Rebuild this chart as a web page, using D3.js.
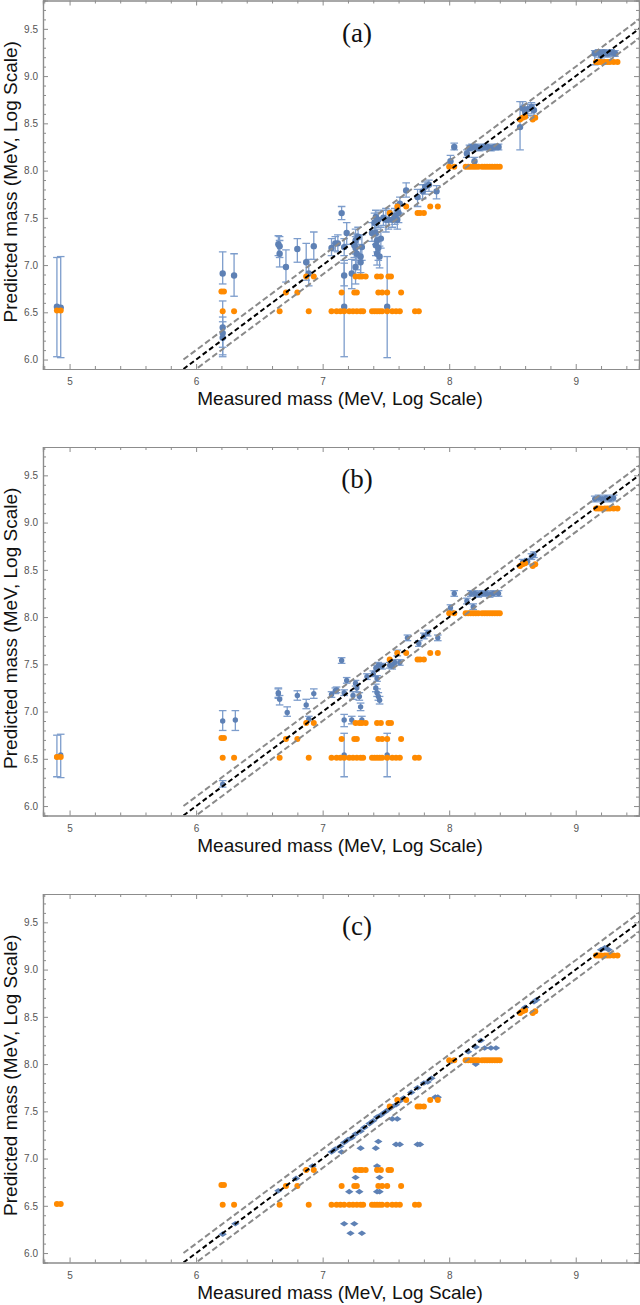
<!DOCTYPE html>
<html>
<head>
<meta charset="utf-8">
<script src="https://cdn.jsdelivr.net/npm/d3@7"></script>
<style>
  body { margin: 0; background: #fff; }
  svg { display: block; }
</style>
</head>
<body>
<svg id="chart" width="640" height="1305"></svg>
<script>
// shared orange points (same in every panel)
const orangePoints = [
  [4.90, 6.52], [4.93, 6.52],
  [6.21, 6.51], [6.30, 6.51], [6.66, 6.51], [6.89, 6.51], [7.07, 6.51], [7.11, 6.51], [7.14, 6.51],
  [7.17, 6.51], [7.21, 6.51], [7.24, 6.51], [7.27, 6.51], [7.30, 6.51], [7.32, 6.51], [7.39, 6.51],
  [7.41, 6.51], [7.43, 6.51], [7.45, 6.51], [7.47, 6.51], [7.51, 6.51], [7.55, 6.51], [7.58, 6.51],
  [7.61, 6.51], [7.73, 6.51], [7.76, 6.51],
  [6.20, 6.72], [6.22, 6.72], [6.71, 6.71], [6.80, 6.71], [7.15, 6.71], [7.25, 6.71], [7.27, 6.71],
  [7.44, 6.71], [7.47, 6.71], [7.51, 6.71], [7.62, 6.71],
  [6.87, 6.88], [6.93, 6.88], [7.26, 6.88], [7.29, 6.88], [7.31, 6.88], [7.34, 6.88], [7.43, 6.88],
  [7.46, 6.88], [7.52, 6.88], [7.54, 6.88],
  [7.53, 7.55], [7.75, 7.55], [7.77, 7.55], [7.80, 7.55], [7.59, 7.62], [7.66, 7.62], [7.85, 7.62], [7.91, 7.62],
  [8.00, 8.04], [8.04, 8.04], [8.13, 8.04], [8.15, 8.04], [8.17, 8.04], [8.19, 8.04], [8.21, 8.04],
  [8.23, 8.04], [8.26, 8.04], [8.28, 8.04], [8.30, 8.04], [8.32, 8.04], [8.34, 8.04], [8.36, 8.04],
  [8.38, 8.04], [8.40, 8.04],
  [8.56, 8.54], [8.58, 8.56], [8.60, 8.57], [8.66, 8.54], [8.68, 8.56],
  [9.16, 9.15], [9.18, 9.15], [9.20, 9.15], [9.23, 9.15], [9.25, 9.15], [9.27, 9.15], [9.30, 9.15], [9.33, 9.15]
];

// panel (a): [measured, predicted, low, high]
const bluePointsA = [
  [4.90, 6.56, 6.03, 7.08], [4.93, 6.55, 6.02, 7.09],
  [6.21, 6.91, 6.80, 7.14], [6.21, 6.34, 6.05, 6.62], [6.21, 6.28, 6.13, 6.45], [6.21, 6.23, 6.03, 6.40],
  [6.30, 6.89, 6.67, 7.12],
  [6.65, 7.22, 7.10, 7.31], [6.66, 7.20, 7.08, 7.30], [6.66, 7.12, 6.98, 7.26],
  [6.71, 6.98, 6.82, 7.16], [6.80, 7.17, 7.03, 7.28], [6.87, 7.03, 6.84, 7.23], [6.89, 6.91, 6.78, 7.06],
  [6.93, 7.20, 7.06, 7.35],
  [7.07, 7.18, 7.10, 7.28], [7.10, 7.23, 7.15, 7.30], [7.12, 7.23, 7.14, 7.32], [7.15, 7.55, 7.48, 7.62],
  [7.17, 7.19, 7.10, 7.28], [7.17, 6.89, 6.78, 7.02], [7.17, 6.56, 6.03, 7.05],
  [7.19, 7.34, 7.22, 7.45], [7.23, 6.91, 6.75, 7.06], [7.25, 7.21, 7.08, 7.33], [7.26, 7.18, 7.05, 7.30],
  [7.27, 7.12, 6.95, 7.27], [7.26, 6.98, 6.80, 7.12], [7.28, 7.30, 7.18, 7.40], [7.26, 7.26, 7.12, 7.38],
  [7.30, 7.09, 6.92, 7.22], [7.30, 7.03, 6.88, 7.18], [7.31, 7.19, 7.05, 7.32],
  [7.39, 7.34, 7.25, 7.45], [7.41, 7.45, 7.35, 7.55], [7.42, 7.51, 7.42, 7.58], [7.42, 7.34, 7.22, 7.46],
  [7.43, 7.26, 7.14, 7.38], [7.42, 7.21, 7.10, 7.32], [7.44, 7.18, 7.05, 7.29], [7.43, 7.12, 7.00, 7.25],
  [7.45, 7.09, 6.97, 7.20], [7.46, 7.28, 7.18, 7.40], [7.44, 7.48, 7.40, 7.56], [7.48, 7.50, 7.42, 7.58],
  [7.50, 7.48, 7.35, 7.60], [7.51, 6.56, 6.02, 7.09], [7.52, 7.48, 7.38, 7.58], [7.55, 7.48, 7.40, 7.56],
  [7.57, 7.52, 7.43, 7.60], [7.59, 7.48, 7.38, 7.58], [7.60, 7.55, 7.45, 7.65], [7.61, 7.65, 7.55, 7.72],
  [7.66, 7.79, 7.72, 7.87], [7.75, 7.72, 7.62, 7.80], [7.79, 7.78, 7.70, 7.85], [7.81, 7.83, 7.75, 7.88],
  [7.84, 7.85, 7.78, 7.90], [7.90, 7.78, 7.70, 7.84],
  [8.01, 8.10, 8.04, 8.16], [8.04, 8.25, 8.22, 8.29], [8.14, 8.18, 8.14, 8.22], [8.16, 8.24, 8.21, 8.27],
  [8.18, 8.25, 8.22, 8.28], [8.20, 8.10, 8.06, 8.14], [8.21, 8.25, 8.22, 8.28], [8.24, 8.24, 8.21, 8.27],
  [8.27, 8.25, 8.22, 8.28], [8.30, 8.25, 8.22, 8.28], [8.33, 8.24, 8.21, 8.27], [8.36, 8.25, 8.22, 8.28],
  [8.39, 8.25, 8.22, 8.28],
  [8.56, 8.46, 8.22, 8.73], [8.58, 8.66, 8.55, 8.73], [8.60, 8.63, 8.56, 8.70], [8.62, 8.65, 8.58, 8.70],
  [8.65, 8.67, 8.60, 8.72], [8.67, 8.64, 8.58, 8.70],
  [9.15, 9.24, 9.12, 9.27], [9.18, 9.25, 9.20, 9.28], [9.20, 9.22, 9.18, 9.26], [9.22, 9.25, 9.21, 9.28],
  [9.25, 9.24, 9.20, 9.27], [9.28, 9.25, 9.21, 9.28], [9.31, 9.24, 9.21, 9.27]
];

// panel (b): [measured, predicted, low, high]
const bluePointsB = [
  [4.90, 6.52, 6.31, 6.75], [4.93, 6.54, 6.30, 6.76],
  [6.21, 6.90, 6.80, 7.01], [6.21, 6.23, 6.20, 6.27], [6.31, 6.91, 6.80, 7.01],
  [6.65, 7.20, 7.15, 7.25], [6.65, 7.19, 7.14, 7.24], [6.66, 7.13, 7.07, 7.17],
  [6.72, 6.99, 6.95, 7.05], [6.80, 7.17, 7.12, 7.22], [6.87, 7.07, 7.03, 7.13], [6.89, 6.92, 6.90, 6.95],
  [6.93, 7.19, 7.14, 7.24],
  [7.07, 7.18, 7.15, 7.21], [7.10, 7.22, 7.19, 7.25], [7.11, 7.23, 7.20, 7.26], [7.15, 7.54, 7.51, 7.57],
  [7.17, 6.91, 6.84, 6.97], [7.17, 6.54, 6.31, 6.77], [7.17, 7.20, 7.17, 7.23],
  [7.19, 7.33, 7.30, 7.36], [7.23, 6.91, 6.87, 6.95], [7.24, 7.17, 7.13, 7.21], [7.27, 7.25, 7.21, 7.29],
  [7.29, 7.16, 7.12, 7.20], [7.26, 7.30, 7.27, 7.33], [7.30, 7.05, 7.01, 7.09], [7.31, 6.91, 6.87, 6.95],
  [7.35, 7.37, 7.34, 7.40], [7.40, 7.40, 7.37, 7.43], [7.42, 7.46, 7.43, 7.49], [7.43, 7.35, 7.32, 7.38],
  [7.42, 7.25, 7.21, 7.29], [7.43, 7.20, 7.16, 7.24], [7.44, 7.16, 7.12, 7.20], [7.45, 7.12, 7.08, 7.16],
  [7.44, 7.49, 7.46, 7.52], [7.47, 7.48, 7.45, 7.51], [7.51, 6.54, 6.31, 6.77], [7.53, 7.49, 7.46, 7.52],
  [7.55, 7.48, 7.45, 7.51], [7.57, 7.52, 7.49, 7.55], [7.59, 7.62, 7.59, 7.65], [7.61, 7.52, 7.49, 7.55],
  [7.67, 7.78, 7.75, 7.81], [7.76, 7.72, 7.69, 7.75], [7.80, 7.80, 7.77, 7.83], [7.83, 7.83, 7.80, 7.86],
  [7.91, 7.78, 7.75, 7.81],
  [8.01, 8.10, 8.07, 8.13], [8.04, 8.25, 8.22, 8.28], [8.14, 8.17, 8.14, 8.20], [8.17, 8.25, 8.22, 8.28],
  [8.19, 8.11, 8.08, 8.14], [8.20, 8.25, 8.22, 8.28], [8.23, 8.24, 8.21, 8.27], [8.26, 8.25, 8.22, 8.28],
  [8.29, 8.25, 8.22, 8.28], [8.32, 8.24, 8.21, 8.27], [8.35, 8.25, 8.22, 8.28], [8.39, 8.25, 8.22, 8.28],
  [8.58, 8.58, 8.55, 8.61], [8.62, 8.59, 8.56, 8.62], [8.65, 8.64, 8.61, 8.67], [8.67, 8.66, 8.63, 8.69],
  [9.15, 9.25, 9.22, 9.28], [9.18, 9.26, 9.23, 9.29], [9.21, 9.25, 9.22, 9.28], [9.24, 9.26, 9.23, 9.29],
  [9.27, 9.25, 9.22, 9.28], [9.30, 9.26, 9.23, 9.29]
];

// panel (c): [measured, predicted], no error bars
const bluePointsC = [
  [6.21, 6.20], [6.31, 6.31], [6.65, 6.66], [6.79, 6.79], [6.87, 6.88], [6.92, 6.92],
  [7.07, 7.07], [7.10, 7.10], [7.14, 7.13], [7.17, 7.17], [7.20, 7.20], [7.23, 7.22], [7.26, 7.26],
  [7.30, 7.29], [7.33, 7.33], [7.37, 7.37], [7.40, 7.40], [7.43, 7.44], [7.46, 7.46], [7.49, 7.49],
  [7.52, 7.52], [7.55, 7.55], [7.58, 7.57], [7.61, 7.61], [7.64, 7.64], [7.70, 7.70], [7.75, 7.75],
  [7.80, 7.80], [7.83, 7.81], [7.86, 7.85], [8.02, 8.03], [8.15, 8.13], [8.21, 8.18], [8.25, 8.25],
  [8.58, 8.57], [8.60, 8.60], [8.67, 8.66], [8.69, 8.68], [9.20, 9.21], [9.23, 9.23], [9.26, 9.21],
  [7.17, 6.31], [7.25, 6.31], [7.22, 6.21], [7.31, 6.21], [7.21, 6.65], [7.29, 6.65], [7.26, 6.80],
  [7.43, 6.65], [7.45, 6.65], [7.45, 6.80], [7.43, 6.92], [7.15, 7.07], [7.30, 7.11], [7.42, 7.11],
  [7.44, 7.18], [7.58, 7.15], [7.61, 7.15], [7.75, 7.15], [7.77, 7.15], [7.55, 7.42], [7.59, 7.42],
  [7.89, 7.65], [7.91, 7.65], [8.21, 8.00], [8.28, 8.17], [8.33, 8.17], [8.37, 8.17]
];

const panelLabels = ["(a)", "(b)", "(c)"];
const xTicks = [5, 6, 7, 8, 9];
const yTicks = [6.0, 6.5, 7.0, 7.5, 8.0, 8.5, 9.0, 9.5];
const bandOffsets = [-0.1, 0.1];
const lineRange = [5.9, 9.7];

const blue = "#5e81b5";
const barColor = "#7d9dcc";
const orange = "#ff8a00";
const frameColor = "#8c8c8c";

const svg = d3.select("#chart");
const left = 43, right = 639, plotH = 368.5;
const tops = [0.5, 447, 894];

const x = d3.scaleLinear().domain([4.79, 9.5]).range([left, right]);

function drawPanel(i, blues, mode) {
  const top = tops[i];
  const y = d3.scaleLinear().domain([5.9, 9.8]).range([top + plotH, top]);
  const g = svg.append("g");

  const clipId = "clip" + i;
  g.append("clipPath").attr("id", clipId)
    .append("rect").attr("x", left).attr("y", top).attr("width", right - left).attr("height", plotH);

  const plot = g.append("g").attr("clip-path", `url(#${clipId})`);

  // blue series
  if (mode === "bars") {
    const bars = plot.append("g").attr("stroke", barColor).attr("stroke-width", 1.3);
    blues.forEach(([mx, py, lo, hi]) => {
      bars.append("line").attr("x1", x(mx)).attr("x2", x(mx)).attr("y1", y(lo)).attr("y2", y(hi));
      [lo, hi].forEach(v => {
        bars.append("line").attr("x1", x(mx) - 3.8).attr("x2", x(mx) + 3.8).attr("y1", y(v)).attr("y2", y(v));
      });
    });
    plot.append("g").selectAll("circle").data(blues).join("circle")
      .attr("cx", d => x(d[0])).attr("cy", d => y(d[1]))
      .attr("r", i === 0 ? 3.2 : 2.7).attr("fill", blue);
  } else {
    plot.append("g").selectAll("path").data(blues).join("path")
      .attr("transform", d => `translate(${x(d[0])},${y(d[1])})`)
      .attr("d", "M-4.2,0L0,-2.8L4.2,0L0,2.8Z").attr("fill", blue);
  }

  // orange series
  plot.append("g").selectAll("circle").data(orangePoints).join("circle")
    .attr("cx", d => x(d[0])).attr("cy", d => y(d[1])).attr("r", 3).attr("fill", orange);

  // reference lines
  const line = d3.line().x(d => x(d[0])).y(d => y(d[1]));
  bandOffsets.forEach(off => {
    plot.append("path").datum(lineRange.map(v => [v, v + off])).attr("d", line)
      .attr("fill", "none").attr("stroke", "#8a8a8a").attr("stroke-width", 2).attr("stroke-dasharray", "6,3");
  });
  plot.append("path").datum(lineRange.map(v => [v, v])).attr("d", line)
    .attr("fill", "none").attr("stroke", "#000").attr("stroke-width", 2).attr("stroke-dasharray", "5,3");

  // frame + ticks
  const xMinor = d3.range(4.8, 9.51, 0.2).filter(v => !xTicks.some(t => Math.abs(t - v) < 1e-6));
  const yMinor = d3.range(5.9, 9.81, 0.1).filter(v => !yTicks.some(t => Math.abs(t - v) < 1e-6));

  const bottomAxis = d3.axisBottom(x).tickValues(xTicks).tickSize(-5).tickPadding(9).tickFormat(d3.format("d"));
  const leftAxis = d3.axisLeft(y).tickValues(yTicks).tickSize(-5).tickPadding(5).tickFormat(d3.format(".1f"));

  const gb = g.append("g").attr("transform", `translate(0,${top + plotH})`).call(bottomAxis);
  const gl = g.append("g").attr("transform", `translate(${left},0)`).call(leftAxis);
  const gt = g.append("g").attr("transform", `translate(0,${top})`)
    .call(d3.axisTop(x).tickValues(xTicks).tickSize(-5).tickFormat(""));
  const gr = g.append("g").attr("transform", `translate(${right},0)`)
    .call(d3.axisRight(y).tickValues(yTicks).tickSize(-5).tickFormat(""));
  g.append("g").attr("transform", `translate(0,${top + plotH})`)
    .call(d3.axisBottom(x).tickValues(xMinor).tickSize(-3).tickFormat(""));
  g.append("g").attr("transform", `translate(0,${top})`)
    .call(d3.axisTop(x).tickValues(xMinor).tickSize(-3).tickFormat(""));
  g.append("g").attr("transform", `translate(${left},0)`)
    .call(d3.axisLeft(y).tickValues(yMinor).tickSize(-3).tickFormat(""));
  g.append("g").attr("transform", `translate(${right},0)`)
    .call(d3.axisRight(y).tickValues(yMinor).tickSize(-3).tickFormat(""));

  g.selectAll(".domain").attr("stroke", frameColor).attr("stroke-width", 1.2);
  g.selectAll(".tick line").attr("stroke", frameColor);
  g.selectAll(".tick text").attr("fill", "#555").attr("font-family", "Liberation Sans, Arial, sans-serif").attr("font-size", 10);
  g.selectAll(".domain").each(function () {
    // plain straight frame edges without end stubs
    const p = d3.select(this);
    const d = p.attr("d");
    p.attr("d", d.replace(/M([-\d.]+),([-\d.]+)V0H([-\d.]+)V([-\d.]+)/, "M$1,0H$3")
                  .replace(/M([-\d.]+),([-\d.]+)H0V([-\d.]+)H([-\d.]+)/, "M0,$1V$3"));
  });
  gb.raise(); gl.raise(); gt.raise(); gr.raise();

  // axis titles
  g.append("text").attr("x", 340).attr("y", top + plotH + 36)
    .attr("text-anchor", "middle").attr("font-family", "Liberation Sans, Arial, sans-serif")
    .attr("font-size", 19).attr("fill", "#111").text("Measured mass (MeV, Log Scale)");
  g.append("text").attr("transform", `translate(17,${top + plotH / 2 - 3}) rotate(-90)`)
    .attr("text-anchor", "middle").attr("font-family", "Liberation Sans, Arial, sans-serif")
    .attr("font-size", 19).attr("fill", "#111").text("Predicted mass (MeV, Log Scale)");

  g.append("text").attr("x", 357).attr("y", top + 41)
    .attr("text-anchor", "middle").attr("font-family", "Liberation Serif, DejaVu Serif, serif")
    .attr("font-size", 27).attr("fill", "#111").text(panelLabels[i]);
}

drawPanel(0, bluePointsA, "bars");
drawPanel(1, bluePointsB, "bars");
drawPanel(2, bluePointsC, "diamonds");
</script>
</body>
</html>
